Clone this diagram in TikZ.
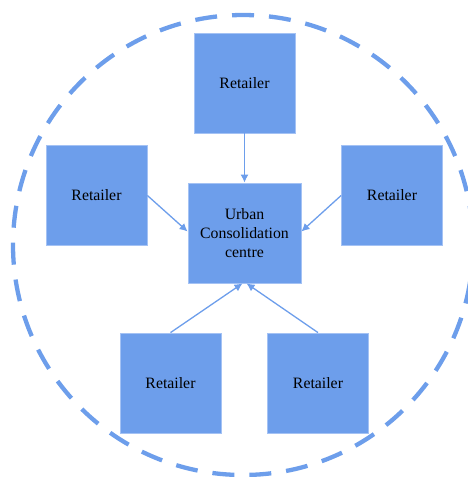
\documentclass[tikz,border=0pt]{standalone}
\usepackage{fontspec}
\setmainfont{Liberation Serif}
\usetikzlibrary{arrows.meta}
\definecolor{boxblue}{HTML}{6D9EEB}
\definecolor{edgeblue}{HTML}{A4C2F4}
\begin{document}
\begin{tikzpicture}[x=1pt,y=-1pt,
  unit/.style={fill=boxblue,draw=edgeblue,line width=0.8pt,inner sep=0pt,
    minimum width=101pt,minimum height=100pt,align=center,
    font=\fontsize{15.8}{19.2}\selectfont},
  hub/.style={unit,minimum width=113pt},
  flow/.style={draw=boxblue,line width=1.3pt,-{Latex[length=8pt,width=8pt]}},
  ring/.style={draw=boxblue,line width=4.3pt,dash pattern=on 22pt off 15pt}]
\useasboundingbox (0,0) rectangle (468,477);
\clip (0,0) rectangle (468,477);
% dashed boundary of the urban area
\draw[ring] (243,245) circle (230);
% consolidation centre and retailers
\node[hub] (ucc) at (244.5,233) {Urban\\Consolidation\\centre};
\node[unit] (rt) at (244.5,83) {Retailer};
\node[unit] (rl) at (96.5,195.5) {Retailer};
\node[unit] (rr) at (392,195.5) {Retailer};
\node[unit] (rbl) at (170.5,383) {Retailer};
\node[unit] (rbr) at (318,383) {Retailer};
% deliveries into the centre
\draw[flow] (rt.south) -- (ucc.north);
\draw[flow] (rl.east) -- ([yshift=-36pt]rl.east -| ucc.west);
\draw[flow] (rr.west) -- ([yshift=-36pt]rr.west -| ucc.east);
\draw[flow] (rbl.north) -- ([xshift=-2pt]ucc.south);
\draw[flow] (rbr.north) -- ([xshift=2pt]ucc.south);
\end{tikzpicture}
\end{document}
